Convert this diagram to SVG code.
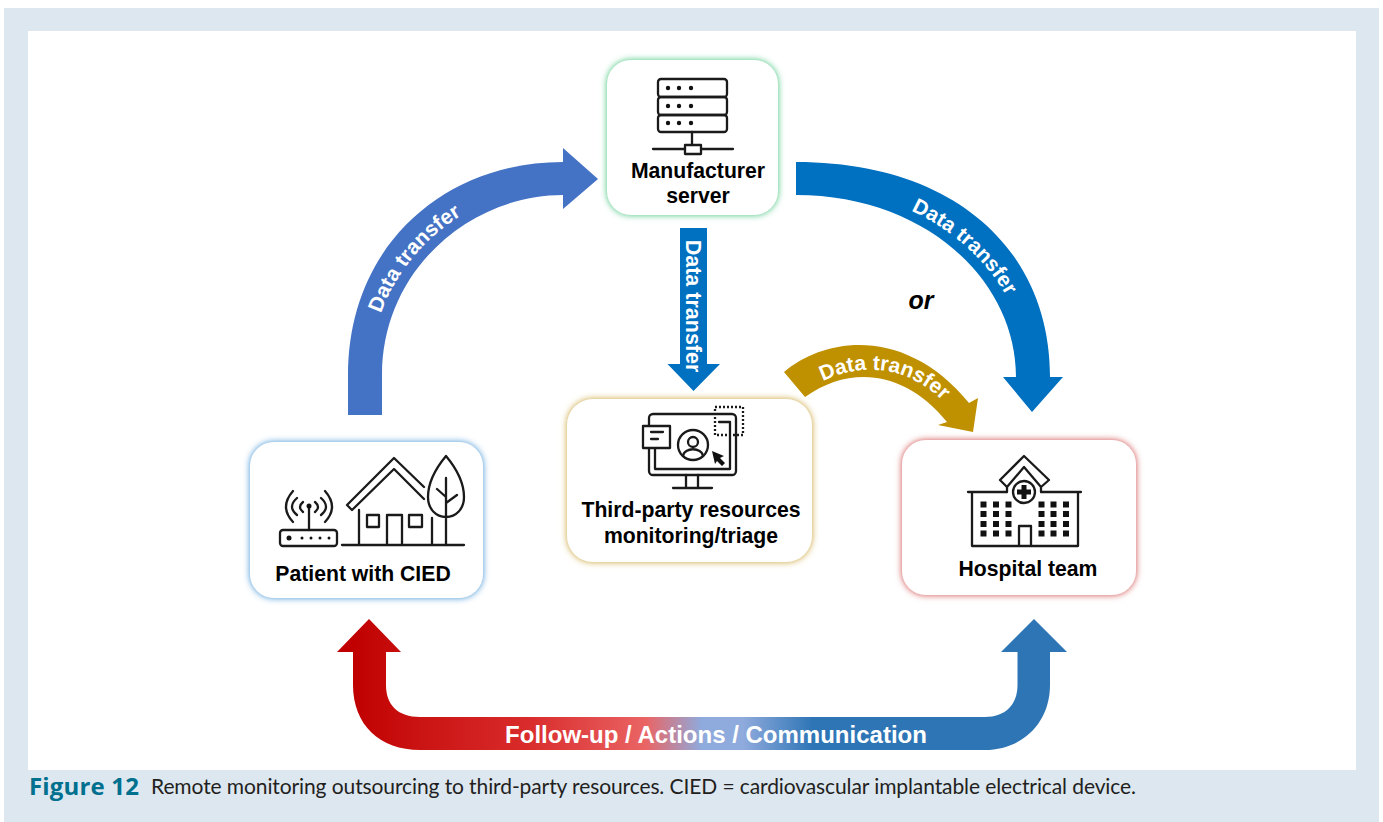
<svg xmlns="http://www.w3.org/2000/svg" width="1383" height="822" viewBox="0 0 1383 822">
<style>
.lbl{font-family:"Liberation Sans",Arial,sans-serif;font-weight:700;font-size:21.200px;fill:#000;text-anchor:middle}
.dt{font-family:"Liberation Sans",Arial,sans-serif;font-weight:700;font-size:21px;fill:#fff;text-anchor:middle}
.ic{fill:none;stroke:#1a1a1a;stroke-width:2.300;stroke-linecap:round;stroke-linejoin:round}
.dot{fill:#111}
.box{fill:#fff}
</style>
<defs>
<filter id="gG" x="-15%" y="-15%" width="130%" height="130%"><feDropShadow dx="0" dy="0" stdDeviation="3" flood-color="#7fd8a6"/><feDropShadow dx="0" dy="0" stdDeviation="1.500" flood-color="#a8e4c4"/></filter>
<filter id="gY" x="-15%" y="-15%" width="130%" height="130%"><feDropShadow dx="0" dy="0" stdDeviation="3" flood-color="#dcc27a"/><feDropShadow dx="0" dy="0" stdDeviation="1.500" flood-color="#e6d49e"/></filter>
<filter id="gR" x="-15%" y="-15%" width="130%" height="130%"><feDropShadow dx="0" dy="0" stdDeviation="3" flood-color="#e08a8a"/><feDropShadow dx="0" dy="0" stdDeviation="1.500" flood-color="#eaa8a8"/></filter>
<filter id="gB2" x="-15%" y="-15%" width="130%" height="130%"><feDropShadow dx="0" dy="0" stdDeviation="3" flood-color="#7fb6e2"/><feDropShadow dx="0" dy="0" stdDeviation="1.500" flood-color="#a8d0ee"/></filter>
<linearGradient id="fb" gradientUnits="userSpaceOnUse" x1="353" y1="0" x2="1050" y2="0">
<stop offset="0" stop-color="#c00000"/>
<stop offset="0.1" stop-color="#cb1414"/>
<stop offset="0.25" stop-color="#d92b2b"/>
<stop offset="0.42" stop-color="#ea6464"/>
<stop offset="0.5" stop-color="#8faadc"/>
<stop offset="0.56" stop-color="#8faadc"/>
<stop offset="0.66" stop-color="#2e75b6"/>
<stop offset="1" stop-color="#2e75b6"/>
</linearGradient>
<path id="t1" d="M371 372C371 265 467 185 563 185"/>
<path id="t2" d="M796 186C930 186 1028 275 1028 377"/>
<path id="t3" d="M808 390C855 358 915 362 956 416"/>
</defs>
<rect x="0" y="0" width="1383" height="822" fill="#fff"/>
<rect x="4" y="8" width="1375" height="814" fill="#dde7f0"/>
<rect x="28" y="31" width="1328" height="739" fill="#fff"/>
<g id="connectors">
<path fill="#4472c4" d="M348 415V375C348 245 445 162 563 162V148L598 179L563 209V195C470 195 382 270 382 375V415Z"/>
<path fill="#0070c0" d="M796 162C955 162 1050 250 1050 377H1063L1032 412L1003 377H1016C1016 280 925 195 796 195Z"/>
<path fill="#0070c0" d="M680 228H707V364H720L693.500 391L667.500 364H680Z"/>
<path fill="#bf9000" d="M784 372C828 335 908 328 969 403L978 398L973 432L938 425L947 422C905 370 850 365 805 397Z"/>
<path fill="url(#fb)" d="M353 652H337L369 619L401 652H386V685C386 705 398 717 420 717H985C1005 717 1017.500 705 1017.500 685V652H1001L1034 619L1067 652H1050V685C1050 725 1020 750 985 750H420C380 750 353 725 353 685Z"/>
<text class="dt"><textPath href="#t1" startOffset="42%">Data transfer</textPath></text>
<text class="dt"><textPath href="#t2" startOffset="55%">Data transfer</textPath></text>
<text class="dt"><textPath href="#t3" startOffset="49%">Data transfer</textPath></text>
<text class="dt" style="font-size:21.500px" transform="translate(686 306) rotate(90)">Data transfer</text>
<text x="716" y="743" style="font-family:'Liberation Sans',Arial,sans-serif;font-weight:700;font-size:24px;fill:#fff;text-anchor:middle">Follow-up / Actions / Communication</text>
<text x="921" y="309" style="font-family:'Liberation Sans',Arial,sans-serif;font-weight:700;font-style:italic;font-size:25px;fill:#000;text-anchor:middle">or</text>
</g>
<g id="node-manufacturer">
<rect class="box" x="607" y="60" width="171" height="155" rx="24" filter="url(#gG)"/>
<g class="ic"><rect x="658" y="79" width="69" height="18" rx="3"/><rect x="658" y="97" width="69" height="18" rx="3"/><rect x="658" y="115" width="69" height="17" rx="3"/><path d="M692 132V145M653 149H685M701 149H733"/><rect x="685" y="145" width="16" height="9"/></g>
<g class="dot"><circle cx="668" cy="88" r="2.200"/><circle cx="679" cy="88" r="2.200"/><circle cx="691" cy="88" r="2.200"/><circle cx="668" cy="106" r="2.200"/><circle cx="679" cy="106" r="2.200"/><circle cx="691" cy="106" r="2.200"/><circle cx="668" cy="123" r="2.200"/><circle cx="679" cy="123" r="2.200"/><circle cx="691" cy="123" r="2.200"/></g>
<text class="lbl" x="698" y="178">Manufacturer</text>
<text class="lbl" x="698" y="203">server</text>
</g>
<g id="node-patient">
<rect class="box" x="250" y="442" width="233" height="156" rx="24" filter="url(#gB2)"/>
<g class="ic"><rect x="280" y="530" width="57" height="16" rx="3"/><path d="M309 506V530M293 491Q279 507 293 522M297 498Q287 507 297 515M303 502Q297 507 303 512M325 491Q339 507 325 522M321 498Q331 507 321 515M315 502Q321 507 315 512"/>
<path d="M342 545H464M352 510L394 469L424 499M347 505L394 458L424 487M347 505L352 510M359 510V545M432 518V545M387 545V515H402V545"/><rect x="367" y="515" width="12" height="12"/><rect x="409" y="515" width="13" height="12"/>
<path d="M446 456C436 468 428 482 428 497C428 509 436 517 446 517C456 517 464 509 464 497C464 482 456 468 446 456ZM446 478V545M437 489L446 497M457 495L446 503"/></g>
<g class="dot"><circle cx="309" cy="506" r="2.500"/><circle cx="289" cy="538" r="2.500"/><circle cx="302" cy="538" r="1.500"/><circle cx="311" cy="538" r="1.500"/><circle cx="320" cy="538" r="1.500"/><circle cx="329" cy="538" r="1.500"/></g>
<text class="lbl" x="363" y="581">Patient with CIED</text>
</g>
<g id="node-third-party">
<rect class="box" x="567" y="399" width="245" height="163" rx="26" filter="url(#gY)"/>
<g class="ic"><rect x="649" y="414" width="87" height="61" rx="4"/><path d="M655 448V469H730V433M719 422H730V433"/><path d="M686 475V488M698 475V488M673 488H712"/>
<rect x="715" y="407" width="28" height="28" stroke-dasharray="2 2" stroke-linecap="butt"/>
<rect x="643" y="426" width="27" height="22" fill="#fff"/><path d="M651 432H663M651 439H658"/>
<circle cx="693" cy="445" r="15"/><circle cx="693" cy="442" r="5"/><path d="M683 456C684 447 702 447 703 456"/></g>
<path class="dot" d="M712 451L724 456L720 458L725 463L722 466L717 461L715 464Z"/>
<text class="lbl" x="691" y="517">Third-party resources</text>
<text class="lbl" x="691" y="543">monitoring/triage</text>
</g>
<g id="node-hospital">
<rect class="box" x="902" y="440" width="234" height="155" rx="24" filter="url(#gR)"/>
<g class="ic"><path d="M1007 492H968M1041 492H1081M972 492V546H1078V492M1019 546V526H1031V546"/><path d="M1024 456L1000 480L1007 487L1024 467L1041 487L1049 480ZM1007 487V492M1041 487V492"/><circle cx="1024" cy="492" r="11" fill="#fff"/></g>
<path class="dot" d="M1021.500 485H1026.500V489.500H1031V494.500H1026.500V499H1021.500V494.500H1017V489.500H1021.500Z"/>
<path class="dot" d="M980.500 501.500h6v6h-6zM993 501.500h6v6h-6zM1005.500 501.500h6v6h-6zM1038.500 501.500h6v6h-6zM1050.500 501.500h6v6h-6zM1063 501.500h6v6h-6zM980.500 511h6v6h-6zM993 511h6v6h-6zM1005.500 511h6v6h-6zM1038.500 511h6v6h-6zM1050.500 511h6v6h-6zM1063 511h6v6h-6zM980.500 521h6v6h-6zM993 521h6v6h-6zM1005.500 521h6v6h-6zM1038.500 521h6v6h-6zM1050.500 521h6v6h-6zM1063 521h6v6h-6zM980.500 530.500h6v6h-6zM993 530.500h6v6h-6zM1005.500 530.500h6v6h-6zM1038.500 530.500h6v6h-6zM1050.500 530.500h6v6h-6zM1063 530.500h6v6h-6z"/>
<text class="lbl" x="1028" y="576">Hospital team</text>
</g>
<text x="29" y="795" textLength="110" style="font-family:'Open Sans','Noto Sans',sans-serif;font-weight:700;font-size:24px;fill:#00708f">Figure 12</text>
<text x="151" y="794" textLength="985" style="font-family:'Lato','Noto Sans',sans-serif;font-size:21px;fill:#231f20">Remote monitoring outsourcing to third-party resources. CIED = cardiovascular implantable electrical device.</text>
</svg>
